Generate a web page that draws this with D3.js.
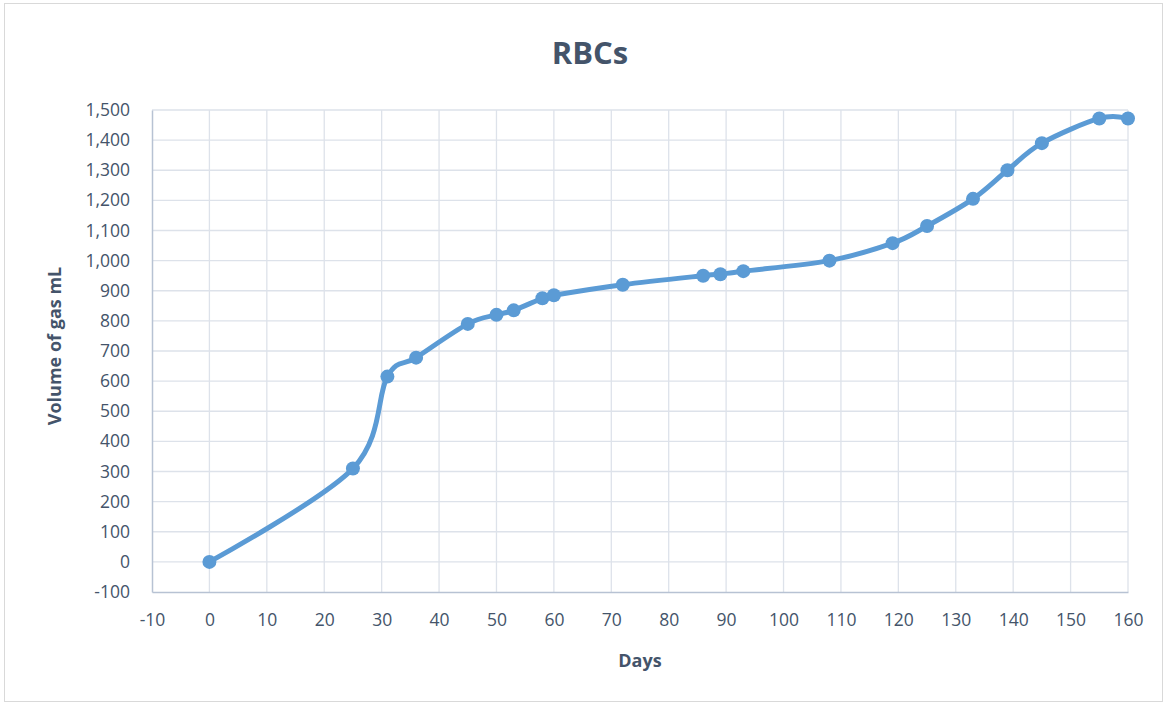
<!DOCTYPE html>
<html>
<head>
<meta charset="utf-8">
<script src="https://cdn.jsdelivr.net/npm/d3@7"></script>
<style>
  html, body { margin: 0; padding: 0; background: #fff; }
  svg { display: block; }
  text { font-family: "Open Sans", "Noto Sans", sans-serif; fill: #44546A; }
</style>
</head>
<body>
<svg id="chart" width="1167" height="704"></svg>
<script>
// Gas volume produced over time (RBCs digestion)
const days   = [0, 25, 31, 36, 45, 50, 53, 58, 60, 72, 86, 89, 93, 108, 119, 125, 133, 139, 145, 155, 160];
const volume = [0, 310, 615, 678, 790, 820, 835, 875, 885, 920, 950, 955, 965, 1000, 1058, 1115, 1205, 1300, 1390, 1472, 1472];

const xTicks = d3.range(-10, 161, 10);
const yTicks = d3.range(-100, 1501, 100);

const chartTitle = "RBCs";
const xTitle = "Days";
const yTitle = "Volume of gas mL";

const W = 1167, H = 704;
const plot = { left: 152, right: 1128, top: 110, bottom: 592 };

const svg = d3.select("#chart");

// outer chart frame
svg.append("rect")
  .attr("x", 4.5).attr("y", 3.5)
  .attr("width", W - 9).attr("height", H - 6)
  .attr("fill", "#fff")
  .attr("stroke", "#D9D9D9")
  .attr("stroke-width", 1);

const x = d3.scaleLinear().domain([-10, 160]).range([plot.left, plot.right]);
const y = d3.scaleLinear().domain([-100, 1500]).range([plot.bottom, plot.top]);

// grid lines
const grid = svg.append("g");
grid.selectAll("line.v").data(xTicks.filter(d => d > -10)).enter().append("line")
  .attr("x1", d => x(d)).attr("x2", d => x(d))
  .attr("y1", plot.top).attr("y2", plot.bottom)
  .attr("stroke", "#DDE2EA").attr("stroke-width", 1.3);
grid.selectAll("line.h").data(yTicks.filter(d => d > -100)).enter().append("line")
  .attr("x1", plot.left).attr("x2", plot.right)
  .attr("y1", d => y(d)).attr("y2", d => y(d))
  .attr("stroke", "#DDE2EA").attr("stroke-width", 1.3);

// axes (plain hyphen for negative numbers)
const hyphen = f => d => f(d).replace("\u2212", "-");
const xAxis = d3.axisBottom(x).tickValues(xTicks).tickSize(0).tickPadding(22)
  .tickFormat(hyphen(d3.format("d")));
const yAxis = d3.axisLeft(y).tickValues(yTicks).tickSize(0).tickPadding(22)
  .tickFormat(hyphen(d3.format(",d")));

const gx = svg.append("g").attr("transform", `translate(0,${plot.bottom})`).call(xAxis);
const gy = svg.append("g").attr("transform", `translate(${plot.left},0)`).call(yAxis);
[gx, gy].forEach(g => {
  g.select(".domain").attr("stroke", "#B7C2D3").attr("stroke-width", 1.5);
  g.selectAll("text").attr("font-size", 17.5).attr("fill", "#44546A")
    .attr("font-family", "'Open Sans', sans-serif");
});

// series line (smoothed) and markers
const pts = days.map((d, i) => [d, volume[i]]);
const line = d3.line().x(d => x(d[0])).y(d => y(d[1])).curve(d3.curveCardinal.tension(0));

svg.append("path")
  .datum(pts)
  .attr("d", line)
  .attr("fill", "none")
  .attr("stroke", "#5B9BD5")
  .attr("stroke-width", 5)
  .attr("stroke-linejoin", "round")
  .attr("stroke-linecap", "round");

svg.append("g").selectAll("circle").data(pts).enter().append("circle")
  .attr("cx", d => x(d[0])).attr("cy", d => y(d[1]))
  .attr("r", 7)
  .attr("fill", "#5B9BD5");

// titles
svg.append("text")
  .attr("x", 590).attr("y", 64)
  .attr("text-anchor", "middle")
  .attr("font-size", 31).attr("font-weight", 700)
  .text(chartTitle);

svg.append("text")
  .attr("x", 640).attr("y", 667)
  .attr("text-anchor", "middle")
  .attr("font-size", 18).attr("font-weight", 700)
  .text(xTitle);

svg.append("text")
  .attr("transform", "translate(61,346) rotate(-90)")
  .attr("text-anchor", "middle")
  .attr("font-size", 18).attr("font-weight", 700)
  .text(yTitle);
</script>
</body>
</html>
